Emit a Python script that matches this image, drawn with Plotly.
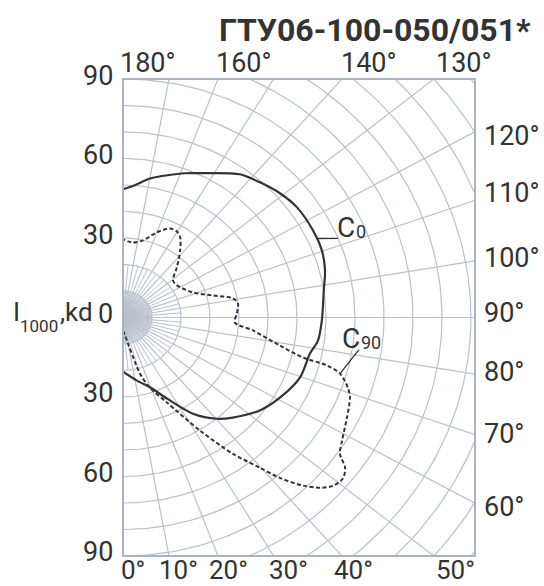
import numpy as np
import plotly.graph_objects as go

# ---------------- data (angle in degrees from nadir, intensity kd per 1000 lm) ----------------
c0_angle = [0, 11.5, 20.5, 26.4, 33.6, 40.3, 45.1, 53.4, 60.8, 69.6, 78.1, 82.6, 89.1,
            98.4, 104.3, 110.2, 116.7, 124.7, 130.9, 137.2, 143.3, 154.0, 158.5, 169.9, 175.3, 180]
c0_value = [20.4, 24.3, 28.6, 34.2, 43.6, 50.1, 53.5, 58.8, 62.0, 65.1, 65.9, 67.8, 68.6,
            70.0, 71.9, 73.1, 73.3, 73.0, 71.6, 69.5, 67.4, 60.6, 58.5, 53.3, 50.1, 48.4]

c90_angle = [0, 5.8, 15.5, 19.3, 25.3, 31.9, 36.4, 39.8, 41.8, 44.4, 46.6, 48.7, 51.3, 53.5,
             55.5, 58.4, 63.9, 68.9, 71.1, 74.2, 75.6, 76.3, 78.9, 83.8, 87.2, 92.2, 97.6,
             100.8, 105.0, 111.4, 123.1, 129.1, 135.5, 142.1, 146.9, 150.2, 154.3, 160.0,
             166.7, 173.1, 180]
c90_value = [5.0, 6.8, 22.0, 28.1, 35.5, 50.3, 63.9, 73.8, 81.2, 88.8, 93.5, 96.3, 97.2, 95.3,
             90.8, 88.7, 86.0, 83.9, 82.0, 77.8, 72.6, 63.9, 55.2, 45.1, 38.6, 39.3, 40.0,
             38.6, 32.1, 25.9, 22.2, 22.2, 26.5, 32.1, 36.1, 37.4, 37.3, 34.2,
             29.9, 28.5, 29.5]

title_text = "ГТУ06-100-050/051*"
radial_ticks = [90, 60, 30, 0, -30, -60, -90]
radial_labels = ["90", "60", "30", "0", "30", "60", "90"]
top_labels = ["180°", "160°", "140°", "130°"]
right_labels = ["120°", "110°", "100°", "90°", "80°", "70°", "60°"]
bottom_labels = ["0°", "10°", "20°", "30°", "40°", "50°"]
curve_names = ["C", "C"]
curve_subs = ["0", "90"]
unit_parts = ["I", "1000", ",kd"]

# ---------------- geometry / style ----------------
W, H = 544, 586
L, R, T, B = 123, 475, 79, 556          # plot area in pixels
X_MAX = 121.4                           # horizontal units across plot area
Y_MAX = 90.0
GRID = "#b9c1cc"
INK = "#333333"
FONT = "Roboto"


def px2paper(px, py):
    return (px - L) / (R - L), (B - py) / (B - T)


def polar_xy(theta_deg, r):
    t = np.radians(np.asarray(theta_deg, dtype=float))
    r = np.asarray(r, dtype=float)
    return r * np.sin(t), -r * np.cos(t)


fig = go.Figure()

# grid circles
gx, gy = [], []
th = np.arange(0, 180.5, 1.0)
for rr in range(10, 170, 10):
    x, y = polar_xy(th, np.full_like(th, rr))
    gx += list(x) + [None]
    gy += list(y) + [None]
# main rays every 10 degrees
for a in range(0, 181, 10):
    x, y = polar_xy([a, a], [0, 200])
    gx += list(x) + [None]
    gy += list(y) + [None]
fig.add_trace(go.Scatter(x=gx, y=gy, mode="lines", line=dict(color=GRID, width=1.2),
                         hoverinfo="skip", showlegend=False))

# centre burst (short dense rays)
bx, by = [], []
for a in np.arange(5, 180, 10):
    x, y = polar_xy([a, a], [0, 20])
    bx += list(x) + [None]
    by += list(y) + [None]
for a in np.arange(0, 180, 2.5):
    if a % 5 == 0:
        continue
    x, y = polar_xy([a, a], [0, 10])
    bx += list(x) + [None]
    by += list(y) + [None]
fig.add_trace(go.Scatter(x=bx, y=by, mode="lines", line=dict(color=GRID, width=1.0),
                         hoverinfo="skip", showlegend=False))

# curves
x0, y0 = polar_xy(c0_angle, c0_value)
fig.add_trace(go.Scatter(x=x0, y=y0, mode="lines", name="C0",
                         line=dict(color=INK, width=2.2, shape="spline", smoothing=0.8),
                         showlegend=False))
x9, y9 = polar_xy(c90_angle, c90_value)
fig.add_trace(go.Scatter(x=x9, y=y9, mode="lines", name="C90",
                         line=dict(color=INK, width=2.0, dash="4px,2.5px", shape="spline",
                                   smoothing=0.8),
                         showlegend=False))

shapes = [dict(type="rect", xref="paper", yref="paper", x0=0, y0=0, x1=1, y1=1,
               line=dict(color="#aab3bf", width=2), layer="above")]
# leader lines for curve labels
lx, ly = polar_xy([114], [73.3])
shapes.append(dict(type="line", xref="x", yref="y", x0=float(lx[0]), y0=float(ly[0]),
                   x1=(338 - L) / 2.90, y1=(317 - 238) / 2.646,
                   line=dict(color=INK, width=1.3)))
lx, ly = polar_xy([74.2], [77.8])
shapes.append(dict(type="line", xref="x", yref="y", x0=float(lx[0]), y0=float(ly[0]),
                   x1=(359 - L) / 2.90, y1=(317 - 349) / 2.646,
                   line=dict(color=INK, width=1.3)))

ann = []


def add_text(text, px, py, size, xanchor="center", yanchor="middle", weight="normal"):
    xp, yp = px2paper(px, py)
    ann.append(dict(text=text, x=xp, y=yp, xref="paper", yref="paper", showarrow=False,
                    xanchor=xanchor, yanchor=yanchor, borderpad=0,
                    font=dict(family=FONT, size=size, color=INK, weight=weight)))


add_text(title_text, 532, 30, 32, xanchor="right", weight="bold")

for lab, yv in zip(radial_labels, radial_ticks):
    add_text(lab, 114, 317 - yv * 2.646 - 3, 27, xanchor="right")

# axis unit label  I(1000), kd  split into main text and smaller index
add_text(unit_parts[0], 12, 328, 26, xanchor="left", yanchor="bottom")
add_text(unit_parts[1], 19, 337, 17, xanchor="left", yanchor="bottom")
add_text(unit_parts[2], 94, 328, 26, xanchor="right", yanchor="bottom")

for lab, px in zip(top_labels, [148, 244, 369, 464]):
    add_text(lab, px, 63, 27)
for lab, py in zip(right_labels, [136, 193, 258, 313, 372, 434, 507]):
    add_text(lab, 483, py, 27, xanchor="left")
for lab, px in zip(bottom_labels, [133, 178, 228, 288, 353, 455]):
    add_text(lab, px, 586, 26, yanchor="bottom")

# curve labels: big "C" followed by a smaller index on the same baseline
for name, sub, (cx, sx, base) in zip(curve_names, curve_subs,
                                     [(336, 355, 238), (341, 360, 349)]):
    add_text(name, cx, base + 7, 28, xanchor="left", yanchor="bottom")
    add_text(sub, sx, base + 4.5, 18, xanchor="left", yanchor="bottom")

fig.update_layout(
    width=W, height=H, autosize=False,
    margin=dict(l=L, r=W - R, t=T, b=H - B, pad=0),
    paper_bgcolor="white", plot_bgcolor="white",
    xaxis=dict(range=[0, X_MAX], visible=False, fixedrange=True),
    yaxis=dict(range=[-Y_MAX, Y_MAX], visible=False, fixedrange=True),
    shapes=shapes, annotations=ann,
    font=dict(family=FONT, color=INK),
)

fig.write_html("out.html", config={"displayModeBar": False},
               post_script="document.body.style.margin='0px';document.body.style.overflow='hidden';")
